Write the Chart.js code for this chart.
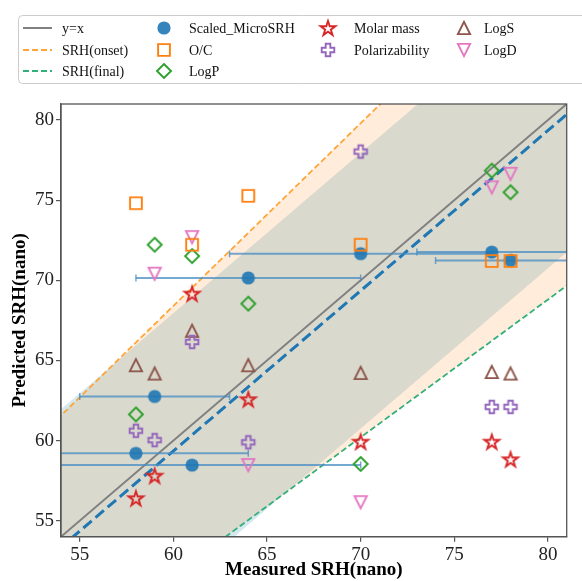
<!DOCTYPE html>
<html>
<head>
<meta charset="utf-8">
<script src="https://cdn.jsdelivr.net/npm/chart.js@4.4.1/dist/chart.umd.min.js"></script>
<style>
  html, body { margin: 0; padding: 0; background: #fff; }
  #wrap { width: 582px; height: 581px; }
</style>
</head>
<body>
<div id="wrap"><canvas id="srhChart" width="582" height="581"></canvas></div>
<script>
// values
const microX = [58, 59, 61, 64, 70, 77, 78];
const microY = [59.2, 62.75, 58.47, 70.15, 71.66, 71.76, 71.24];
const microErr = [6, 4, 9, 6, 7, 4, 4];

const ocX = [58, 61, 64, 70, 77, 78];
const ocY = [74.81, 72.22, 75.27, 72.22, 71.2, 71.2];

const logpX = [58, 59, 61, 64, 70, 77, 78];
const logpY = [61.63, 72.22, 71.51, 68.54, 58.54, 76.84, 75.49];

const molarX = [58, 59, 61, 64, 70, 77, 78];
const molarY = [56.4, 57.81, 69.17, 62.58, 59.93, 59.93, 58.83];

const polarX = [58, 59, 61, 64, 70, 77, 78];
const polarY = [60.61, 60.03, 66.15, 59.89, 78.03, 62.1, 62.1];

const logsX = [58, 59, 61, 64, 70, 77, 78];
const logsY = [64.7, 64.18, 66.85, 64.7, 64.22, 64.28, 64.18];

const logdX = [59, 61, 64, 70, 77, 78];
const logdY = [70.41, 72.69, 58.47, 56.15, 75.8, 76.64];

// reference lines (end points)
const lineX = [50, 85];
const identY = [50, 85];
const fitY = [49.35, 84.35];
const onsetY = [57, 96.9];
const finalY = [43, 73.1];
const bandHiY = [57.95, 92.95];
const bandLoY = [40.75, 75.75];

const xTicks = [55, 60, 65, 70, 75, 80];
const yTicks = [55, 60, 65, 70, 75, 80];

const SERIF = "'Liberation Serif', 'Times New Roman', serif";

const pts = (xs, ys) => xs.map((x, i) => ({ x: x, y: ys[i] }));

// marker images (matplotlib look)
function marker(size, draw) {
  const c = document.createElement("canvas");
  c.width = size; c.height = size;
  const g = c.getContext("2d");
  g.translate(size / 2, size / 2);
  g.lineJoin = "miter";
  draw(g);
  return c;
}
function hollow(color, pathFn) {
  return marker(24, (g) => {
    g.beginPath();
    pathFn(g);
    g.closePath();
    g.strokeStyle = color;
    g.lineWidth = 1.9;
    g.stroke();
  });
}
const mCircle = marker(24, (g) => {
  g.beginPath(); g.arc(0, 0, 6.6, 0, Math.PI * 2);
  g.fillStyle = "rgba(31,119,180,0.9)"; g.fill();
});
const mSquare = hollow("#ff7f0e", (g) => g.rect(-5.9, -5.9, 11.8, 11.8));
const mDiamond = hollow("#2ca02c", (g) => {
  g.moveTo(0, -7); g.lineTo(7, 0); g.lineTo(0, 7); g.lineTo(-7, 0);
});
const mStar = hollow("#d62728", (g) => {
  const R = 7.7, r = R * 0.382;
  for (let i = 0; i < 10; i++) {
    const a = -Math.PI / 2 + i * Math.PI / 5;
    const rr = i % 2 ? r : R;
    g.lineTo(Math.cos(a) * rr, Math.sin(a) * rr + 0.7);
  }
});
const mPlus = hollow("#9467bd", (g) => {
  const h = 6.3, t = 2.3;
  const p = [[-t,-h],[t,-h],[t,-t],[h,-t],[h,t],[t,t],[t,h],[-t,h],[-t,t],[-h,t],[-h,-t],[-t,-t]];
  p.forEach((q, i) => i ? g.lineTo(q[0], q[1]) : g.moveTo(q[0], q[1]));
});
const mTriUp = hollow("#8c564b", (g) => {
  g.moveTo(0, -6.1); g.lineTo(6.1, 6.1); g.lineTo(-6.1, 6.1);
});
const mTriDown = hollow("#e377c2", (g) => {
  g.moveTo(0, 6.1); g.lineTo(6.1, -6.1); g.lineTo(-6.1, -6.1);
});

const lineDs = (ys, extra) => Object.assign({
  type: "line", data: pts(lineX, ys), showLine: true, pointRadius: 0,
  borderWidth: 0, fill: false, tension: 0
}, extra);
const markDs = (label, xs, ys, img, order) => ({
  label: label, data: pts(xs, ys), showLine: false, pointStyle: img,
  pointRadius: 7, borderWidth: 0, order: order
});

// horizontal error bars for the MicroSRH points
const errorBars = {
  id: "errorBars",
  beforeDatasetDraw(chart, args) {
    const ds = chart.data.datasets[args.index];
    if (!ds.errX) return;
    const ctx = chart.ctx, xs = chart.scales.x, ys = chart.scales.y, a = chart.chartArea;
    ctx.save();
    ctx.beginPath(); ctx.rect(a.left, a.top, a.right - a.left, a.bottom - a.top); ctx.clip();
    ctx.strokeStyle = "rgba(70,140,195,0.75)";
    ds.data.forEach((p, i) => {
      const y = ys.getPixelForValue(p.y);
      const x0 = xs.getPixelForValue(p.x - ds.errX[i]);
      const x1 = xs.getPixelForValue(p.x + ds.errX[i]);
      ctx.lineWidth = 2;
      ctx.beginPath(); ctx.moveTo(x0, y); ctx.lineTo(x1, y); ctx.stroke();
      ctx.lineWidth = 1.5;
      [x0, x1].forEach((x) => {
        ctx.beginPath(); ctx.moveTo(x, y - 3.5); ctx.lineTo(x, y + 3.5); ctx.stroke();
      });
    });
    ctx.restore();
  }
};

// frame, axis titles and legend
const legendCols = [
  { mx: 37, tx: 62, items: [
    { text: "y=x", line: "#808080", dash: [] },
    { text: "SRH(onset)", line: "#ffa53a", dash: [6, 3] },
    { text: "SRH(final)", line: "#33b07a", dash: [6, 3] } ] },
  { mx: 164, tx: 189, items: [
    { text: "Scaled_MicroSRH", img: mCircle },
    { text: "O/C", img: mSquare },
    { text: "LogP", img: mDiamond } ] },
  { mx: 328, tx: 354, items: [
    { text: "Molar mass", img: mStar },
    { text: "Polarizability", img: mPlus } ] },
  { mx: 464, tx: 484, items: [
    { text: "LogS", img: mTriUp },
    { text: "LogD", img: mTriDown } ] }
];
const legendRows = [28, 50, 71];

const decor = {
  id: "decor",
  afterDraw(chart) {
    const ctx = chart.ctx, a = chart.chartArea;
    ctx.save();
    ctx.strokeStyle = "#555"; ctx.lineWidth = 1.3;
    ctx.strokeRect(a.left, a.top, a.right - a.left, a.bottom - a.top);

    ctx.fillStyle = "#000";
    ctx.font = "bold 19px " + SERIF;
    ctx.textAlign = "center"; ctx.textBaseline = "middle";
    ctx.fillText("Measured SRH(nano)", (a.left + a.right) / 2, 570);
    ctx.translate(20, (a.top + a.bottom) / 2);
    ctx.rotate(-Math.PI / 2);
    ctx.fillText("Predicted SRH(nano)", 0, 0);
    ctx.restore();

    // legend box
    ctx.save();
    ctx.fillStyle = "rgba(255,255,255,0.9)";
    ctx.strokeStyle = "#cccccc"; ctx.lineWidth = 1;
    ctx.beginPath();
    ctx.roundRect(18.5, 15.5, 600, 68, 4);
    ctx.fill(); ctx.stroke();
    ctx.font = "14px " + SERIF;
    ctx.textAlign = "left"; ctx.textBaseline = "middle";
    legendCols.forEach((col) => {
      col.items.forEach((it, r) => {
        const y = legendRows[r];
        if (it.img) {
          ctx.drawImage(it.img, col.mx - it.img.width / 2, y - it.img.height / 2);
        } else {
          ctx.strokeStyle = it.line; ctx.lineWidth = 2; ctx.setLineDash(it.dash);
          ctx.beginPath(); ctx.moveTo(23, y); ctx.lineTo(52, y); ctx.stroke();
          ctx.setLineDash([]);
        }
        ctx.fillStyle = "#111";
        ctx.fillText(it.text, col.tx, y + 1);
      });
    });
    ctx.restore();
  }
};

const axisStyle = (ticks, fitFn) => ({
  type: "linear",
  afterBuildTicks: (s) => { s.ticks = ticks.map((v) => ({ value: v })); },
  afterFit: fitFn,
  ticks: { font: { family: SERIF, size: 19 }, color: "#222", padding: 2, maxRotation: 0, autoSkip: false },
  grid: { drawOnChartArea: false, drawTicks: true, tickLength: 5, color: "#555", lineWidth: 1.2 },
  border: { display: true, color: "#555", width: 1.3 }
});

const datasets = [
  lineDs(bandHiY, { fill: "+1", backgroundColor: "rgba(38,145,174,0.2)", order: 10 }),
  lineDs(bandLoY, { order: 10 }),
  lineDs(onsetY, { fill: "+1", backgroundColor: "rgba(255,127,14,0.15)", order: 9 }),
  lineDs(finalY, { order: 9 }),
  lineDs(onsetY, { borderColor: "#ffa53a", borderWidth: 1.8, borderDash: [6, 3], order: 5 }),
  lineDs(finalY, { borderColor: "#33b07a", borderWidth: 1.8, borderDash: [6, 3], order: 5 }),
  lineDs(identY, { borderColor: "#808080", borderWidth: 2, order: 4 }),
  lineDs(fitY, { borderColor: "#1f77b4", borderWidth: 3, borderDash: [11, 5], order: 3 }),
  Object.assign(markDs("Scaled_MicroSRH", microX, microY, mCircle, 2), { errX: microErr }),
  markDs("O/C", ocX, ocY, mSquare, 1),
  markDs("LogP", logpX, logpY, mDiamond, 1),
  markDs("Molar mass", molarX, molarY, mStar, 1),
  markDs("Polarizability", polarX, polarY, mPlus, 1),
  markDs("LogS", logsX, logsY, mTriUp, 1),
  markDs("LogD", logdX, logdY, mTriDown, 1)
];

new Chart(document.getElementById("srhChart"), {
  type: "scatter",
  data: { datasets: datasets },
  options: {
    responsive: false,
    animation: false,
    events: [],
    layout: { padding: { top: 104, right: 15.3, left: 0, bottom: 0 } },
    plugins: { legend: { display: false }, tooltip: { enabled: false } },
    scales: {
      x: Object.assign(axisStyle(xTicks, (s) => { s.height = 44.3; }), { min: 54, max: 81 }),
      y: Object.assign(axisStyle(yTicks, (s) => { s.width = 61; }), { min: 54, max: 81 })
    }
  },
  plugins: [errorBars, decor]
});
</script>
</body>
</html>
